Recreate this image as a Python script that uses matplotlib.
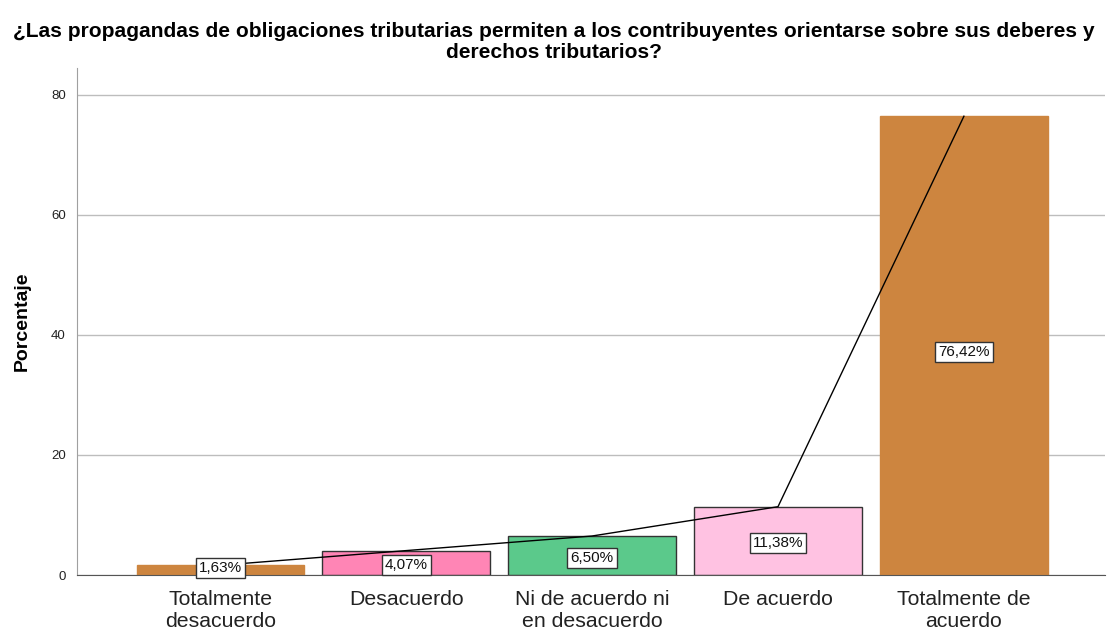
import matplotlib.pyplot as plt
import numpy as np

plt.rcParams['font.family'] = ['Liberation Sans', 'DejaVu Sans']

# Datos
categorias = ['Totalmente\ndesacuerdo', 'Desacuerdo', 'Ni de acuerdo ni\nen desacuerdo',
              'De acuerdo', 'Totalmente de\nacuerdo']
porcentajes = [1.63, 4.07, 6.50, 11.38, 76.42]
etiquetas = ['1,63%', '4,07%', '6,50%', '11,38%', '76,42%']
colores = ['#CD853F', '#FF85B5', '#5BC98B', '#FFC2E2', '#CD853F']
bordes = ['#CD853F', '#333333', '#333333', '#333333', '#CD853F']

fig = plt.figure(figsize=(11.08, 6.31), dpi=100)
ax = fig.add_axes([0.0695, 0.0887, 0.928, 0.803])

x = np.arange(len(categorias))
ax.bar(x, porcentajes, width=0.9, color=colores, edgecolor=bordes, linewidth=1, zorder=2)
ax.plot(x, porcentajes, color='black', linewidth=1, zorder=3)

for xi, v, txt in zip(x, porcentajes, etiquetas):
    y = max(0.49 * v - 0.3, 1.16)
    ax.text(xi, y, txt, ha='center', va='center', fontsize=11, zorder=4, color='#111111',
            bbox=dict(boxstyle='square,pad=0.2', facecolor='white', edgecolor='#333333', linewidth=1))

ax.set_xlim(-0.77, 4.76)
ax.set_ylim(0, 84.4)
ax.set_yticks([0, 20, 40, 60, 80])
ax.set_xticks(x)
ax.set_xticklabels(categorias, fontsize=15.3, color='#222222', linespacing=1.15)
ax.tick_params(axis='y', length=0, labelsize=9.5, pad=8, colors='#222222')
ax.tick_params(axis='x', length=0, pad=11)
ax.yaxis.grid(True, color='#bdbdbd', linewidth=1, zorder=0)
ax.set_axisbelow(True)
for s in ['top', 'right']:
    ax.spines[s].set_visible(False)
ax.spines['left'].set_color('#a0a0a0')
ax.spines['bottom'].set_color('#555555')

ax.set_ylabel('Porcentaje', fontsize=14, fontweight='bold', labelpad=15)

fig.suptitle('¿Las propagandas de obligaciones tributarias permiten a los contribuyentes orientarse sobre sus deberes y\nderechos tributarios?',
             fontsize=15.1, fontweight='bold', y=0.965, linespacing=1.12)

fig.savefig('out.png', dpi=100)
